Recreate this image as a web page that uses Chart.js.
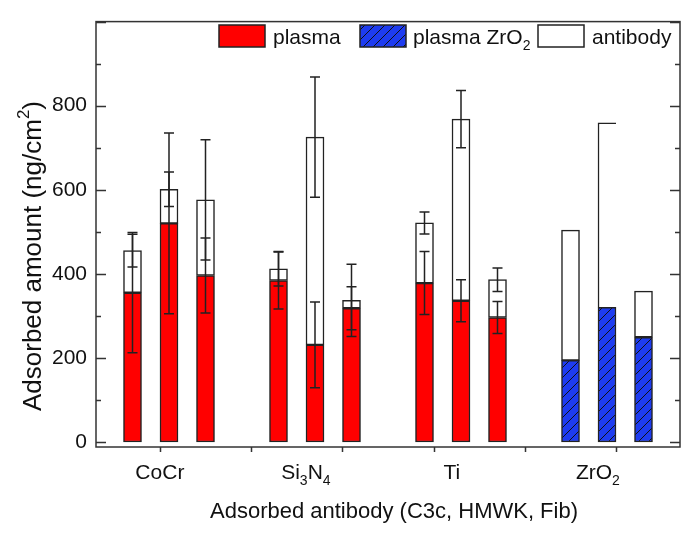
<!DOCTYPE html>
<html><head><meta charset="utf-8">
<script src="https://cdn.jsdelivr.net/npm/chart.js@4/dist/chart.umd.min.js"></script>
<style>html,body{margin:0;padding:0;background:#fff;}</style>
</head><body>
<canvas id="c" width="700" height="539"></canvas>
<script>
// ---- data ----
const categories = ['CoCr', 'Si3N4', 'Ti', 'ZrO2'];
const antibodies = ['C3c', 'HMWK', 'Fib'];
// plasma adsorption (CoCr, Si3N4, Ti) x (C3c, HMWK, Fib)
const plasma    = [355, 520, 396,  384, 231, 318,  378, 336, 296];
const plasmaErr = [143, 215,  89,   68, 102,  51,   75,  50,  38];
// plasma on ZrO2 (C3c, HMWK, Fib)
const plasmaZrO2 = [194, 320, 249];
// antibody increment stacked on top (all four materials)
const antibody    = [100,  81, 180,   28, 494,  19,  143, 432,  90,  310, 439, 110];
const antibodyErr = [ 39,  41, 143,   41, 143,  86,   26,  68,  28, null, null, null];
const yTickValues = [0, 200, 400, 600, 800];
const legendLabels = ['plasma', 'plasma ZrO2', 'antibody'];
const xTitle = 'Adsorbed antibody (C3c, HMWK, Fib)';
const yTitle = 'Adsorbed amount (ng/cm2)';

// ---- layout helpers ----
const FONT = "'Liberation Sans', Arial, sans-serif";
const RED = '#ff0000', BLUE = '#1e3cf0', EDGE = '#222';
function xPos(g, i) { return 0.7 + g * 1.6 + i * 0.4; }

function hatch() {
  const c = document.createElement('canvas'); c.width = 10; c.height = 10;
  const x = c.getContext('2d');
  x.fillStyle = BLUE; x.fillRect(0, 0, 10, 10);
  x.strokeStyle = '#111'; x.lineWidth = 1;
  x.beginPath();
  x.moveTo(0, 10); x.lineTo(10, 0);
  x.moveTo(-1, 1); x.lineTo(1, -1);
  x.moveTo(9, 11); x.lineTo(11, 9);
  x.stroke();
  return x.createPattern(c, 'repeat');
}
const hatchPattern = hatch();

const redData = plasma.map((v, k) => ({x: xPos(Math.floor(k / 3), k % 3), y: v}));
const blueData = plasmaZrO2.map((v, i) => ({x: xPos(3, i), y: v}));
const abData = antibody.map((v, k) => ({x: xPos(Math.floor(k / 3), k % 3), y: v}));

// split text into parts: digits after a letter become subscripts
function parseSub(s) {
  const parts = [];
  for (const ch of s) {
    const sub = /[0-9]/.test(ch) && parts.length > 0;
    const last = parts[parts.length - 1];
    if (last && last.sub === sub) last.t += ch; else parts.push({t: ch, sub});
  }
  return parts;
}
function drawParts(ctx, parts, x, y, size, align) {
  const small = Math.round(size * 0.66);
  let w = 0;
  parts.forEach(p => { ctx.font = (p.sub || p.sup ? small : size) + 'px ' + FONT; p.w = ctx.measureText(p.t).width; w += p.w; });
  let cx = align === 'center' ? x - w / 2 : (align === 'right' ? x - w : x);
  ctx.textAlign = 'left'; ctx.textBaseline = 'alphabetic';
  parts.forEach(p => {
    ctx.font = (p.sub || p.sup ? small : size) + 'px ' + FONT;
    const dy = p.sub ? size * 0.3 : (p.sup ? -size * 0.45 : 0);
    ctx.fillText(p.t, cx, y + dy);
    cx += p.w;
  });
}

const decor = {
  id: 'decor',
  afterDatasetsDraw(chart) {
    const {ctx, scales: {x, y}} = chart;
    ctx.save();
    ctx.strokeStyle = EDGE; ctx.lineWidth = 1.5;
    const cap = 5;
    function bar(xv, c, e) {
      if (e == null) return;
      const px = x.getPixelForValue(xv);
      const t = y.getPixelForValue(c + e), b = y.getPixelForValue(c - e);
      ctx.beginPath();
      ctx.moveTo(px, t); ctx.lineTo(px, b);
      ctx.moveTo(px - cap, t); ctx.lineTo(px + cap, t);
      ctx.moveTo(px - cap, b); ctx.lineTo(px + cap, b);
      ctx.stroke();
    }
    plasma.forEach((v, k) => bar(redData[k].x, v, plasmaErr[k]));
    antibody.forEach((v, k) => {
      const base = k < 9 ? plasma[k] : plasmaZrO2[k - 9];
      bar(abData[k].x, base + v, antibodyErr[k]);
    });
    ctx.restore();
  },
  afterDraw(chart) {
    const {ctx, chartArea: a, scales: {x, y}} = chart;
    ctx.save();
    // frame
    ctx.strokeStyle = '#333'; ctx.lineWidth = 1.5;
    ctx.strokeRect(a.left, a.top, a.right - a.left, a.bottom - a.top);
    // y ticks (inward, both sides)
    ctx.beginPath();
    for (let v = 0; v <= 1000; v += 100) {
      const py = Math.round(y.getPixelForValue(v)) + 0.5;
      const len = v % 200 === 0 ? 10 : 5;
      ctx.moveTo(a.left, py); ctx.lineTo(a.left + len, py);
      ctx.moveTo(a.right, py); ctx.lineTo(a.right - len, py);
    }
    // x ticks (outward)
    for (let v = 1; v <= 6; v++) {
      const px = Math.round(x.getPixelForValue(v)) + 0.5;
      ctx.moveTo(px, a.bottom); ctx.lineTo(px, a.bottom + 5);
    }
    ctx.stroke();
    ctx.fillStyle = '#111';
    // category labels
    categories.forEach((c, g) => {
      const px = x.getPixelForValue(xPos(g, 1) - 0.1);
      drawParts(ctx, parseSub(c), px, 479, 21, 'center');
    });
    // x title
    drawParts(ctx, [{t: xTitle}], (a.left + a.right) / 2 + 6, 518, 22, 'center');
    // y title
    ctx.save();
    ctx.translate(41, 256);
    ctx.rotate(-Math.PI / 2);
    const yp = [{t: yTitle.slice(0, -2)}, {t: '2', sup: true}, {t: ')'}];
    drawParts(ctx, yp, 0, 0, 26, 'center');
    ctx.restore();
    // legend
    const items = [
      {fill: RED, box: 219, text: 273, label: legendLabels[0]},
      {fill: hatchPattern, box: 360, text: 413, label: legendLabels[1]},
      {fill: '#fff', box: 538, text: 592, label: legendLabels[2]}
    ];
    items.forEach(it => {
      ctx.fillStyle = it.fill;
      ctx.fillRect(it.box, 25, 46, 22);
      ctx.strokeStyle = EDGE; ctx.lineWidth = 1.5;
      ctx.strokeRect(it.box, 25, 46, 22);
      ctx.fillStyle = '#111';
      drawParts(ctx, parseSub(it.label), it.text, 44, 21, 'left');
    });
    ctx.restore();
  }
};

new Chart(document.getElementById('c'), {
  type: 'bar',
  data: {
    datasets: [
      {label: legendLabels[0], data: redData, backgroundColor: RED, borderColor: EDGE, borderWidth: 1.5, borderSkipped: false, barThickness: 18},
      {label: legendLabels[1], data: blueData, backgroundColor: hatchPattern, borderColor: EDGE, borderWidth: 1.5, borderSkipped: false, barThickness: 18},
      {label: legendLabels[2], data: abData, backgroundColor: '#fff', borderColor: EDGE, borderSkipped: false, barThickness: 18,
       borderWidth: c => c.dataIndex === 10 ? {left: 1.5, top: 1.5, right: 0, bottom: 0} : 1.5}
    ]
  },
  options: {
    responsive: false,
    animation: false,
    devicePixelRatio: 1,
    layout: {padding: {top: 17, right: 20, left: 0, bottom: 0}},
    plugins: {legend: {display: false}, tooltip: {enabled: false}},
    scales: {
      x: {
        type: 'linear', min: 0.3, max: 6.7, stacked: true, offset: false,
        grid: {display: false, drawTicks: false}, border: {display: false},
        ticks: {display: false},
        afterBuildTicks: s => { s.ticks = [1, 2, 3, 4, 5, 6].map(v => ({value: v})); },
        afterFit: s => { s.height = 92; }
      },
      y: {
        min: -12, max: 1000, stacked: true,
        grid: {display: false, drawTicks: false}, border: {display: false},
        ticks: {color: '#111', font: {family: FONT, size: 21}, padding: 9},
        afterBuildTicks: s => { s.ticks = yTickValues.map(v => ({value: v})); },
        afterFit: s => { s.width = 96; }
      }
    }
  },
  plugins: [decor]
});
</script>
</body></html>
